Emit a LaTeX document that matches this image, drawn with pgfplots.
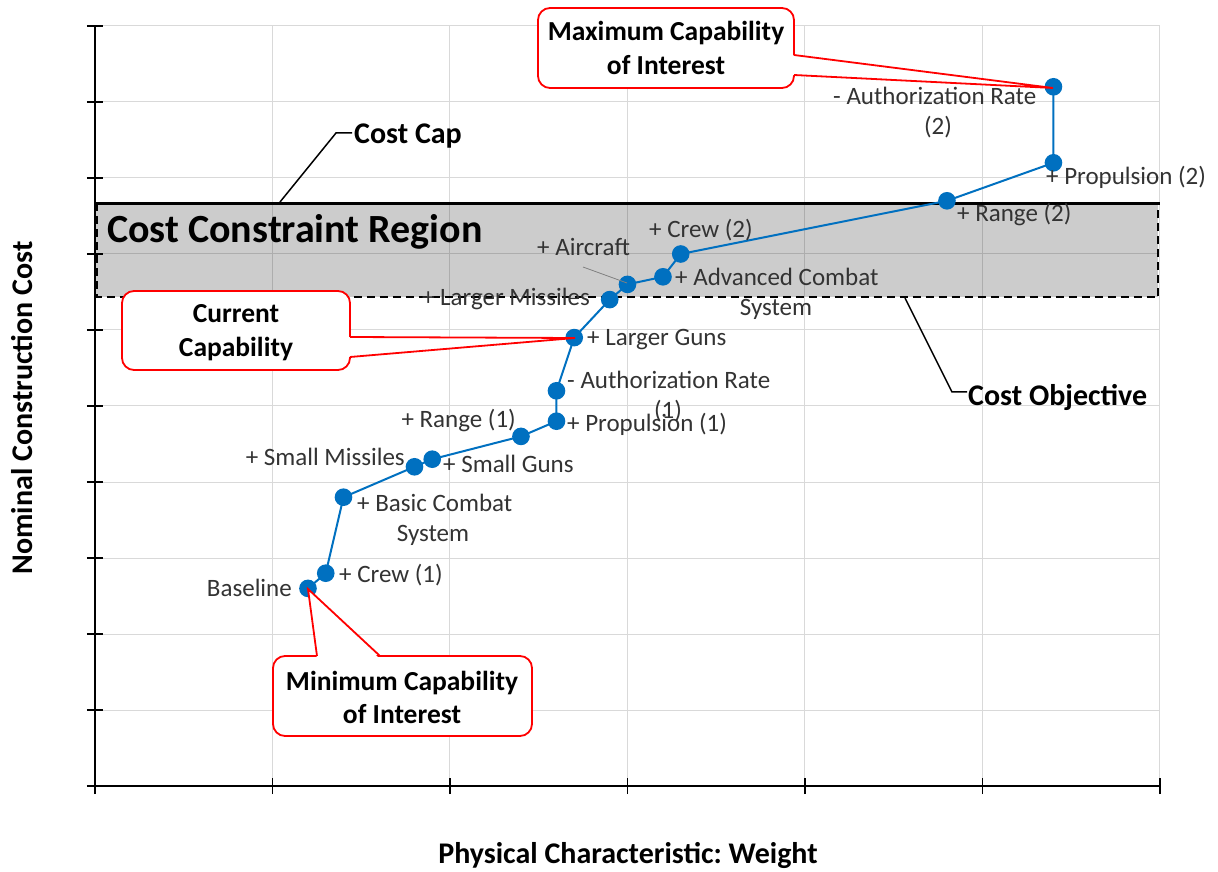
\documentclass[border=0pt]{standalone}
\usepackage{pgfplots}
\pgfplotsset{compat=1.18}
\usepackage{fontspec}
\setmainfont{Carlito}
\frenchspacing
\definecolor{lineblue}{HTML}{0070C0}
\definecolor{lbl}{HTML}{333333}
\definecolor{gridc}{HTML}{D9D9D9}
\pgfplotstableread{
x y
1.2 2.6
1.3 2.8
1.4 3.8
1.8 4.2
1.9 4.3
2.4 4.6
2.6 4.8
2.6 5.2
2.7 5.9
2.9 6.4
3.0 6.6
3.2 6.7
3.3 7.0
4.8 7.7
5.4 8.2
5.4 9.2
}\path
\begin{document}
\begin{tikzpicture}
\begin{axis}[
  scale only axis, width=1065pt, height=760pt,
  xmin=0, xmax=6, ymin=0, ymax=10,
  xtick={0,...,6}, ytick={0,...,10},
  xticklabels={}, yticklabels={},
  grid=major, grid style={color=gridc, line width=1pt},
  axis x line*=bottom, axis y line*=left,
  axis line style={-, black, line width=1.3pt},
  tick align=center, major tick length=16pt,
  tick style={black, line width=1.2pt},
  clip=false,
]
\fill[black, fill opacity=0.2] (axis cs:0,6.43) rectangle (axis cs:5.99,7.67);
\draw[black, line width=2.2pt, dash pattern=on 8pt off 5pt] (axis cs:0.01,7.67) -- (axis cs:0.01,6.43) -- (axis cs:5.99,6.43) -- (axis cs:5.99,7.67);
\draw[black, line width=3pt] (axis cs:0,7.67) -- (axis cs:6,7.67);
\addplot[color=lineblue, line width=2pt, mark=*, mark size=7.8pt, mark options={fill=lineblue, draw=lineblue}] table[x=x,y=y] {\path};
\end{axis}
\begin{scope}[shift={(current axis.south west)}, xshift=-95pt, yshift=786pt, x=1pt, y=-1pt]
\tikzset{lab/.style={text=lbl, inner sep=0pt, font=\fontsize{25}{29}\selectfont},
         bld/.style={text=black, inner sep=0pt, font=\bfseries\fontsize{27.5}{31}\selectfont},
         ttl/.style={text=black, inner sep=0pt, font=\bfseries\fontsize{30}{34}\selectfont}}
% point labels
\node[lab, anchor=base east] at (292,596) {Baseline};
\node[lab, anchor=base west] at (339,582) {+ Crew (1)};
\node[lab, anchor=base west] at (357,511) {+ Basic Combat};
\node[lab, anchor=base] at (433,541) {System};
\node[lab, anchor=base east] at (405,466) {+ Small Missiles};
\node[lab, anchor=base west] at (443,473) {+ Small Guns};
\node[lab, anchor=base east] at (516,428) {+ Range (1)};
\node[lab, anchor=base west] at (567,431) {+ Propulsion (1)};
\node[lab, anchor=base west] at (567,389) {- Authorization Rate};
\node[lab, anchor=base] at (668,419) {(1)};
\node[lab, anchor=base west] at (587,346) {+ Larger Guns};
\node[lab, anchor=base east] at (590,306) {+ Larger Missiles};
\draw[gray, line width=0.8pt] (583,267) -- (627,283);
\node[lab, anchor=base west] at (537,256) {+ Aircraft};
\node[lab, anchor=base west] at (675,286) {+ Advanced Combat};
\node[lab, anchor=base] at (776,316) {System};
\node[lab, anchor=base west] at (649,238) {+ Crew (2)};
\node[lab, anchor=base west] at (957,222) {+ Range (2)};
\node[lab, anchor=base west] at (1046,185) {+ Propulsion (2)};
\node[lab, anchor=base west] at (833,105) {- Authorization Rate};
\node[lab, anchor=base] at (938,135) {(2)};
% region texts
\node[anchor=base west, inner sep=0pt, font=\bfseries\fontsize{40}{44}\selectfont] at (107,243) {Cost Constraint Region};
\draw[black, line width=1.5pt] (280,202) -- (336,133) -- (352,133);
\node[ttl, anchor=base west] at (354,144) {Cost Cap};
\draw[black, line width=1.5pt] (905,298) -- (952,392) -- (967,392);
\node[ttl, anchor=base west] at (968,406) {Cost Objective};
% callouts
\draw[red, line width=1.8pt, fill=white, rounded corners=12pt] (538,8) rectangle (794,88);
\fill[white] (791,55) -- (1053,88) -- (791,75) -- cycle;
\draw[red, line width=1.8pt] (794,55) -- (1053,88) -- (794,75);
\node[bld, anchor=base] at (666,41) {Maximum Capability};
\node[bld, anchor=base] at (666,75) {of Interest};
\draw[red, line width=1.8pt, fill=white, rounded corners=12pt] (122,291) rectangle (350,370);
\fill[white] (347,337) -- (575,338) -- (347,357) -- cycle;
\draw[red, line width=1.8pt] (350,337) -- (575,338) -- (350,357);
\node[bld, anchor=base] at (236,323) {Current};
\node[bld, anchor=base] at (236,357) {Capability};
\draw[red, line width=1.8pt, fill=white, rounded corners=12pt] (273,656) rectangle (532,736);
\fill[white] (317,659) -- (308,589) -- (380,659) -- cycle;
\draw[red, line width=1.8pt] (317,656) -- (308,589) -- (380,656);
\node[bld, anchor=base] at (402,690) {Minimum Capability};
\node[bld, anchor=base] at (402,723) {of Interest};
% axis titles
\node[ttl, rotate=90] at (22,408) {Nominal Construction Cost};
\node[ttl] at (628,855) {Physical Characteristic: Weight};
\pgfresetboundingbox
\path (0,0) rectangle (1218,871);
\end{scope}
\end{tikzpicture}
\end{document}
